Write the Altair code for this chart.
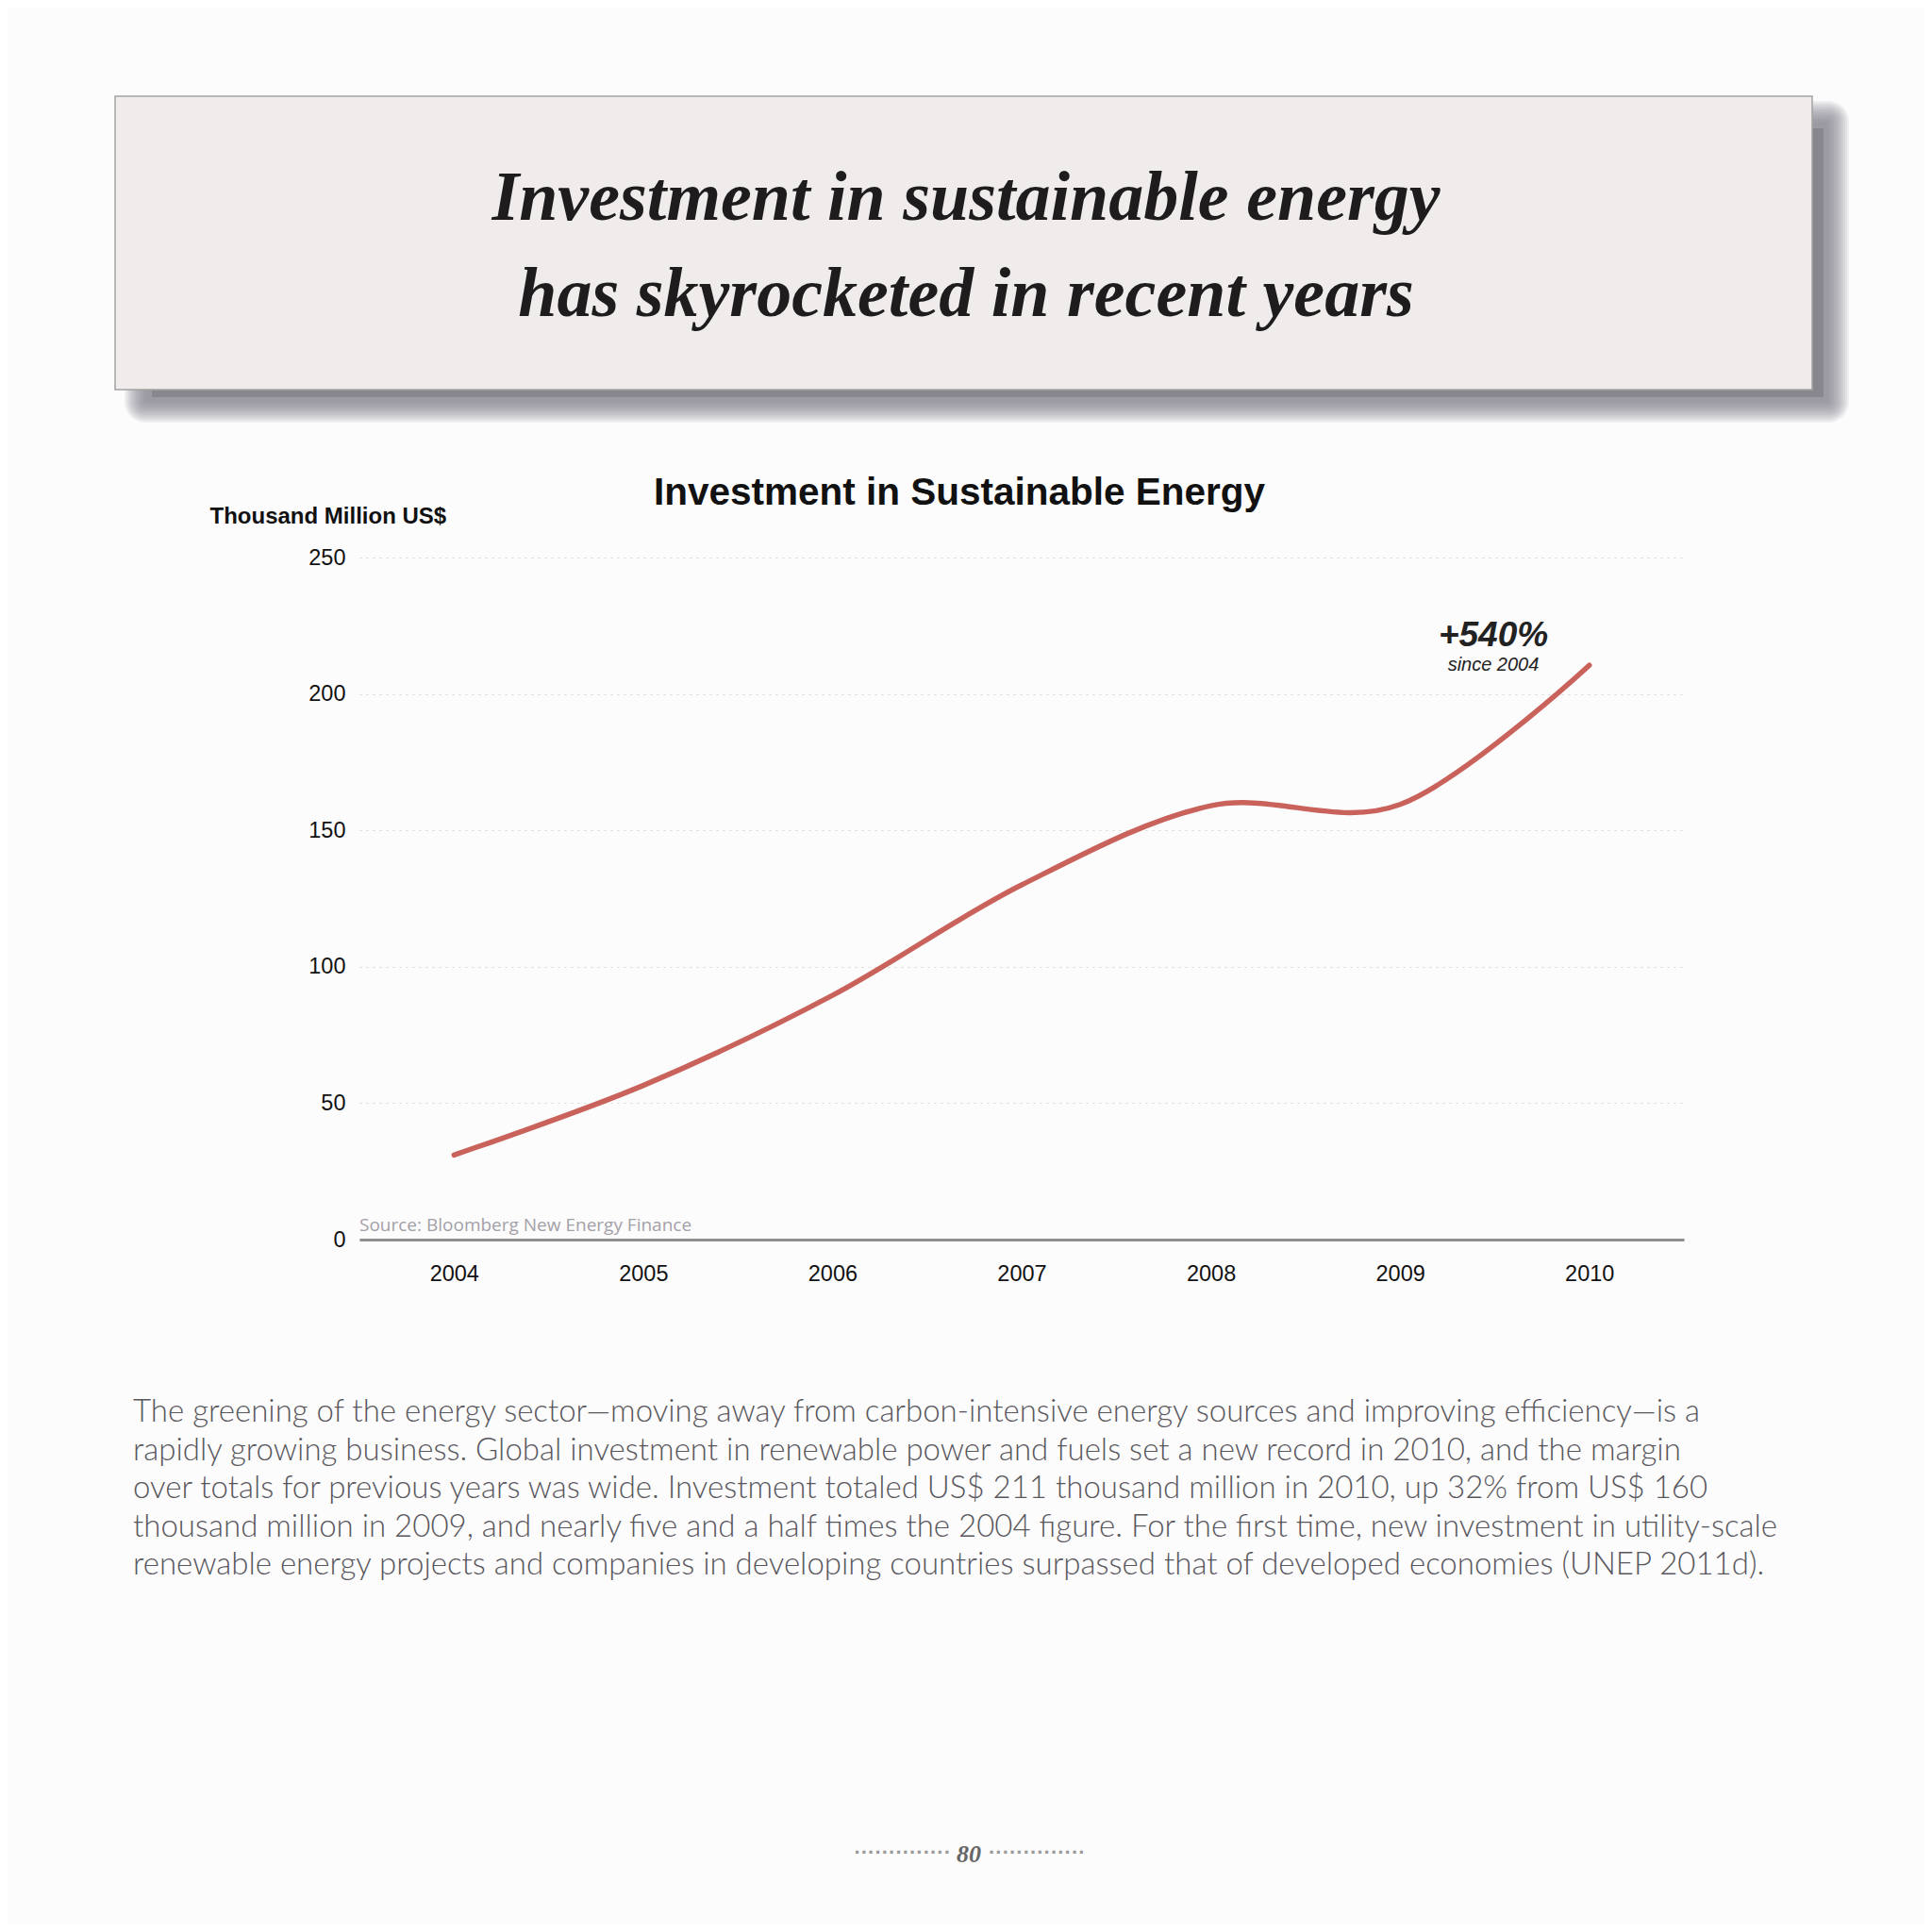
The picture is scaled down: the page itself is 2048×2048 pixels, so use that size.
import altair as alt
import pandas as pd

# ---- data ----
years = [2004, 2005, 2006, 2007, 2008, 2009, 2010]
investment = [31, 56.5, 89.5, 130, 159, 159.5, 210.5]
y_ticks = [0, 50, 100, 150, 200, 250]

headline = ["Investment in sustainable energy", "has skyrocketed in recent years"]
chart_title = "Investment in Sustainable Energy"
y_title = "Thousand Million US$"
source_note = "Source: Bloomberg New Energy Finance"
annot_big = "+540%"
annot_small = "since 2004"
body_lines = [
    "The greening of the energy sector\u2014moving away from carbon-intensive energy sources and improving efficiency\u2014is a",
    "rapidly growing business. Global investment in renewable power and fuels set a new record in 2010, and the margin",
    "over totals for previous years was wide. Investment totaled US$ 211 thousand million in 2010, up 32% from US$ 160",
    "thousand million in 2009, and nearly five and a half times the 2004 figure. For the first time, new investment in utility-scale",
    "renewable energy projects and companies in developing countries surpassed that of developed economies (UNEP 2011d).",
]
page_number = "80"

df = pd.DataFrame({"year": years, "value": investment})

W, H = 1404, 723
PAD_L, PAD_T = 373, 583
one = pd.DataFrame({"a": [0]})

base = alt.Chart(df)

x_enc = alt.X("year:Q", scale=alt.Scale(domain=[2003.5, 2010.5], nice=False, zero=False),
              axis=alt.Axis(values=years, format="d", title=None, grid=False, ticks=False,
                            domainColor="#8e8e8e", domainWidth=3, labelFontSize=23.5,
                            labelFont="Liberation Sans", labelColor="#111111", labelPadding=24))
y_enc = alt.Y("value:Q", scale=alt.Scale(domain=[0, 250], nice=False),
              axis=alt.Axis(values=y_ticks, title=y_title, titleAngle=0, titleAlign="left",
                            titleBaseline="middle", titleX=-159, titleY=-44, titleFontSize=24,
                            titleFont="Liberation Sans", titleFontWeight="bold", titleColor="#111111",
                            domain=False, ticks=False, grid=True, gridDash=[2, 5], gridColor="#d6d6d6",
                            gridWidth=1, labelFontSize=23.5, labelFont="Liberation Sans",
                            labelColor="#111111", labelPadding=15))

line = base.mark_line(interpolate="cardinal", color="#c9625b", strokeWidth=5.5,
                      strokeCap="round").encode(x=x_enc, y=y_enc)

# ---- header box with a soft shadow ----
shadow_layers = []
for e in range(22, -1, -2):
    shadow_layers.append(
        alt.Chart(one).mark_rect(color="#848187", opacity=0.11, cornerRadius=e).encode(
            x=alt.value(-227 - e), x2=alt.value(1557 + e),
            y=alt.value(-462 - e), y2=alt.value(-165 + e)))
shadow_layers.append(
    alt.Chart(one).mark_rect(color="#858288", opacity=0.8).encode(
        x=alt.value(-220), x2=alt.value(1552), y=alt.value(-455), y2=alt.value(-170)))

box = alt.Chart(one).mark_rect(color="#efeceb", stroke="#a3a3a3", strokeWidth=1.5).encode(
    x=alt.value(-259), x2=alt.value(1540), y=alt.value(-489), y2=alt.value(-178))

head = alt.Chart(pd.DataFrame({"t": ["\n".join(headline)]})).mark_text(
    font="Liberation Serif", fontStyle="italic", fontWeight="bold", fontSize=74,
    color="#1e1c1c", align="center", baseline="middle", lineBreak="\n", lineHeight=102,
    dy=-51).encode(x=alt.value(643), y=alt.value(-329), text="t:N")

ctitle = alt.Chart(pd.DataFrame({"t": [chart_title]})).mark_text(
    font="Liberation Sans", fontWeight="bold", fontSize=40.5, color="#111111",
    align="center", baseline="middle").encode(x=alt.value(636), y=alt.value(-68), text="t:N")

src = alt.Chart(pd.DataFrame({"t": [source_note]})).mark_text(
    font="Open Sans", fontSize=19, color="#a3a1a8", align="left",
    baseline="middle").encode(x=alt.value(0), y=alt.value(708), text="t:N")

big = alt.Chart(pd.DataFrame({"t": [annot_big]})).mark_text(
    font="Liberation Sans", fontStyle="italic", fontWeight="bold", fontSize=37,
    color="#222222", align="center", baseline="middle").encode(
    x=alt.value(1202), y=alt.value(83), text="t:N")
small = alt.Chart(pd.DataFrame({"t": [annot_small]})).mark_text(
    font="Liberation Sans", fontStyle="italic", fontSize=20,
    color="#222222", align="center", baseline="middle").encode(
    x=alt.value(1202), y=alt.value(114), text="t:N")

body = alt.Chart(pd.DataFrame({"t": ["\n".join(body_lines)]})).mark_text(
    font="Lato", fontSize=33, fontWeight=300, color="#58575c", align="left",
    baseline="middle", lineBreak="\n", lineHeight=40.5).encode(
    x=alt.value(-240), y=alt.value(906), text="t:N")

pnum = alt.Chart(pd.DataFrame({"t": [page_number]})).mark_text(
    font="Liberation Serif", fontStyle="italic", fontWeight="bold", fontSize=26,
    color="#666666", align="center", baseline="middle").encode(
    x=alt.value(646), y=alt.value(1375), text="t:N")
dots_l = alt.Chart(pd.DataFrame({"t": ["\u00b7" * 14]})).mark_text(
    font="Liberation Sans", fontSize=22, fontWeight="bold", color="#9a9a9a", align="right",
    baseline="middle").encode(x=alt.value(627), y=alt.value(1373), text="t:N")
dots_r = alt.Chart(pd.DataFrame({"t": ["\u00b7" * 14]})).mark_text(
    font="Liberation Sans", fontSize=22, fontWeight="bold", color="#9a9a9a", align="left",
    baseline="middle").encode(x=alt.value(667), y=alt.value(1373), text="t:N")

chart = alt.layer(*shadow_layers, box, head, ctitle, line, src, big, small, body,
                  pnum, dots_l, dots_r).properties(
    width=W, height=H,
    autosize=alt.AutoSizeParams(type="none"),
    padding={"left": PAD_L, "top": PAD_T, "right": 2032 - PAD_L - W, "bottom": 2032 - PAD_T - H},
    background="#fdfcfd",
).configure_view(stroke=None)

chart.save("out.html", embed_options={"renderer": "svg", "actions": False})
